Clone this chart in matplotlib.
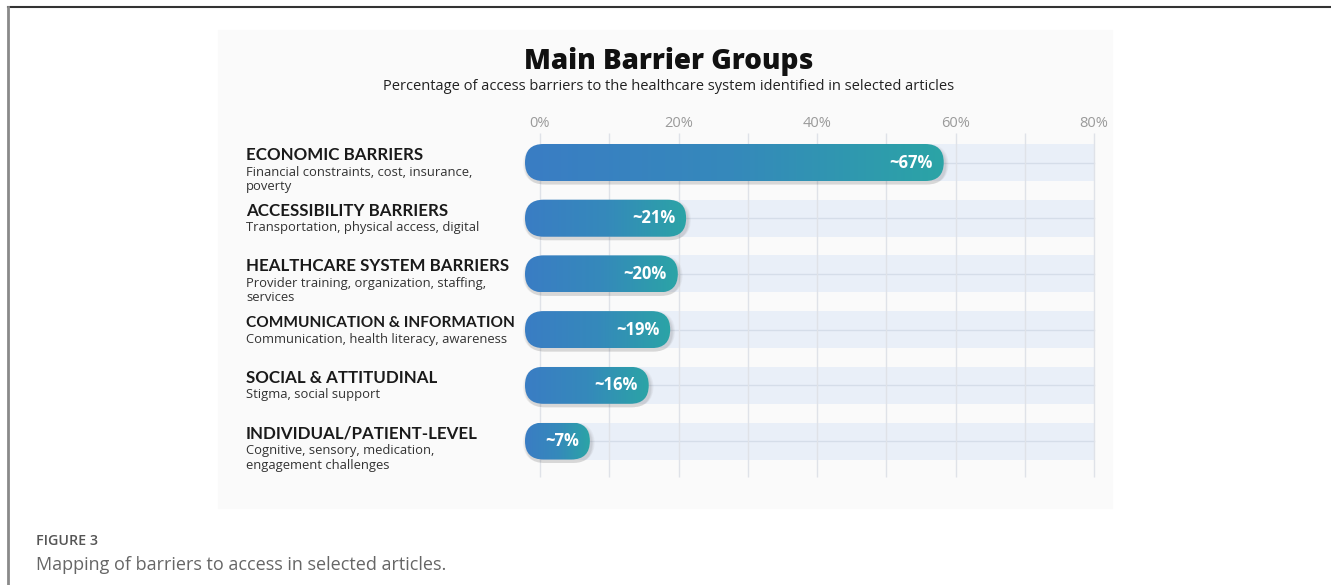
import numpy as np
import matplotlib.pyplot as plt
import matplotlib.transforms as mtransforms
from matplotlib.patches import FancyBboxPatch, Rectangle, BoxStyle
from matplotlib.colors import LinearSegmentedColormap
from matplotlib.lines import Line2D

plt.rcParams['font.family'] = ['Open Sans', 'DejaVu Sans']

# ---- data ----
groups = ['ECONOMIC BARRIERS', 'ACCESSIBILITY BARRIERS', 'HEALTHCARE SYSTEM BARRIERS',
          'COMMUNICATION & INFORMATION', 'SOCIAL & ATTITUDINAL', 'INDIVIDUAL/PATIENT-LEVEL']
descriptions = ['Financial constraints, cost, insurance,\npoverty',
                'Transportation, physical access, digital',
                'Provider training, organization, staffing,\nservices',
                'Communication, health literacy, awareness',
                'Stigma, social support',
                'Cognitive, sensory, medication,\nengagement challenges']
bar_lengths = [58.3, 21.1, 19.9, 18.8, 15.7, 7.2]   # drawn length on the % axis
value_labels = ['~67%', '~21%', '~20%', '~19%', '~16%', '~7%']
tick_values = [0, 20, 40, 60, 80]
grid_values = [0, 10, 20, 30, 40, 50, 60, 70, 80]

W, H = 1331, 585
fig = plt.figure(figsize=(W / 100, H / 100), dpi=100)


def fx(px):
    return px / W


def fy(py):
    return 1 - py / H


# light panel behind the chart
fig.add_artist(Rectangle((fx(218), fy(508)), fx(1112) - fx(218), fy(30) - fy(508),
                         transform=fig.transFigure, color='#fafafa', zorder=-5))

# frame lines of the figure
fig.add_artist(Line2D([fx(8), 1], [fy(6.5), fy(6.5)], color='#333333', lw=1.5))
fig.add_artist(Line2D([fx(8.3), fx(8.3)], [fy(6.5), 0], color='#8a8a8a', lw=2))

# ---- axes placed in pixels ----
PX_PER_UNIT = 6.925
X0_PX = 540
ROW0_PX, ROW_PX = 162.5, 55.7
ax_l, ax_r, ax_t, ax_b = 500, 1100, 130, 482
ax = fig.add_axes([fx(ax_l), fy(ax_b), (ax_r - ax_l) / W, (ax_b - ax_t) / H])
ax.patch.set_visible(False)
for s in ax.spines.values():
    s.set_visible(False)
ax.set_yticks([])
ax.xaxis.tick_top()
ax.set_xticks(tick_values)
ax.set_xticklabels([f'{v}%' for v in tick_values], color='#9a9a9a', fontsize=10.5)
ax.tick_params(axis='x', length=0, pad=-1)

bar_h = 37 / ROW_PX
rx = (37 / 2) / PX_PER_UNIT
asp = (bar_h / 2) / rx
bar_start = -15 / PX_PER_UNIT

grid_top = (133 - ROW0_PX) / ROW_PX
grid_bot = (477 - ROW0_PX) / ROW_PX
ax.vlines(grid_values, grid_top, grid_bot, color='#dfe2e8', lw=1, zorder=1)

cmap = LinearSegmentedColormap.from_list('bar', ['#3a7dc4', '#3589bb', '#2ba4a6'])
gradient = np.linspace(0, 1, 256)[None, :]
label_tf = mtransforms.blended_transform_factory(fig.transFigure, ax.transData)

group_texts = []
for i, (grp, desc, val, lab) in enumerate(zip(groups, descriptions, bar_lengths, value_labels)):
    # background track
    ax.add_patch(Rectangle((0, i - bar_h / 2), 80, bar_h, color='#e9eff8', zorder=0, lw=0))
    ax.plot([0, 80], [i, i], color='#d5dde9', lw=1, zorder=0.5)

    # soft shadow
    for k, a in enumerate([0.04, 0.04, 0.05, 0.06]):
        grow = (4 - k) * 0.9
        sh = FancyBboxPatch((bar_start - grow / PX_PER_UNIT + 0.2, i - bar_h / 2 + (3.5 - grow) / ROW_PX),
                            val - bar_start + 2 * grow / PX_PER_UNIT, bar_h + grow / ROW_PX,
                            boxstyle=BoxStyle.Round(pad=0, rounding_size=rx + grow / PX_PER_UNIT),
                            mutation_aspect=asp, facecolor='#3a3a3a', edgecolor='none',
                            alpha=a, zorder=2)
        ax.add_patch(sh)

    pill = FancyBboxPatch((bar_start, i - bar_h / 2), val - bar_start, bar_h,
                          boxstyle=BoxStyle.Round(pad=0, rounding_size=rx),
                          mutation_aspect=asp, facecolor='none', edgecolor='none', zorder=3)
    ax.add_patch(pill)
    im = ax.imshow(gradient, cmap=cmap, aspect='auto', interpolation='bicubic',
                   extent=[bar_start, val, i + bar_h / 2, i - bar_h / 2], zorder=3)
    im.set_clip_path(pill)

    ax.annotate(lab, xy=(val, i), xytext=(-11, 0), textcoords='offset pixels',
                ha='right', va='center', color='white', fontsize=12, fontweight='bold', zorder=4)

    # left labels
    base = i - 2.5 / ROW_PX
    t = ax.text(fx(246), base, grp, transform=label_tf, ha='left', va='baseline',
                fontsize=12.2, fontweight='bold', color='#1a1a1a', family=['Lato', 'DejaVu Sans'])
    group_texts.append(t)
    for j, line in enumerate(desc.split('\n')):
        ax.text(fx(246), base + (15.5 + 14.5 * j) / ROW_PX, line, transform=label_tf,
                ha='left', va='baseline', fontsize=9.4, color='#333333')

ax.set_xlim((ax_l - X0_PX) / PX_PER_UNIT, (ax_r - X0_PX) / PX_PER_UNIT)
ax.set_ylim((ax_b - ROW0_PX) / ROW_PX, (ax_t - ROW0_PX) / ROW_PX)

# keep group names clear of the bars
renderer = fig.canvas.get_renderer()
for t in group_texts:
    bb = t.get_window_extent(renderer)
    if bb.x1 > 514:
        t.set_fontsize(t.get_fontsize() * (514 - bb.x0) / bb.width)

# titles
fig.text(fx(668.5), fy(69), 'Main Barrier Groups', ha='center', va='baseline',
         fontsize=20, fontweight=800, color='#111111')
fig.text(fx(668.5), fy(90), 'Percentage of access barriers to the healthcare system identified in selected articles',
         ha='center', va='baseline', fontsize=10.5, color='#222222')

# caption
fig.text(fx(36), fy(545), 'FIGURE 3', ha='left', va='baseline', fontsize=10.3,
         fontweight=600, color='#555555')
fig.text(fx(36), fy(570), 'Mapping of barriers to access in selected articles.', ha='left',
         va='baseline', fontsize=13, color='#666666')

fig.savefig('out.png', dpi=100, facecolor='white')
